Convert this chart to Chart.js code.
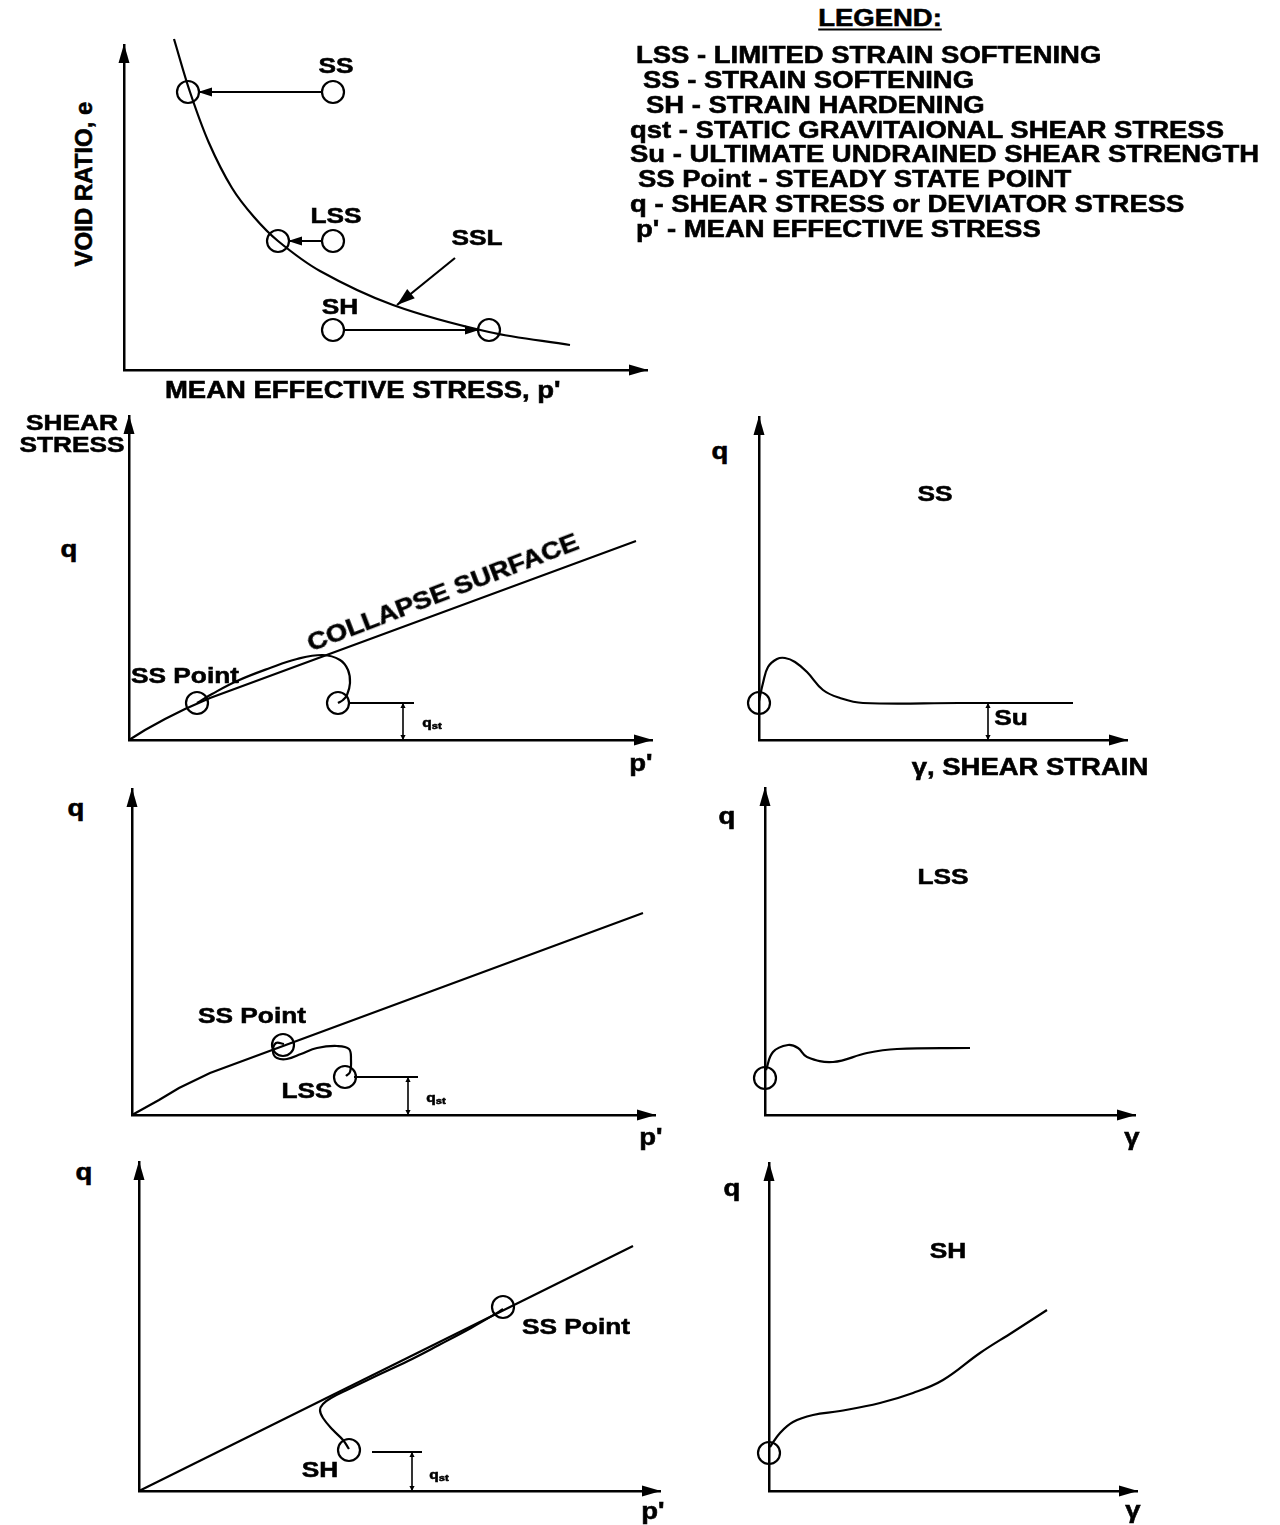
<!DOCTYPE html>
<html>
<head>
<meta charset="utf-8">
<title>Steady state behaviour of sand: SS, LSS and SH responses</title>
<script src="https://cdn.jsdelivr.net/npm/chart.js@4.4.1/dist/chart.umd.min.js"></script>
<style>
  html, body { margin: 0; padding: 0; background: #fff; }
  body { width: 1280px; height: 1525px; position: relative; overflow: hidden;
         font-family: "Liberation Sans", Arial, Helvetica, sans-serif; }
  canvas.panel { position: absolute; }
  .lbl { position: absolute; white-space: nowrap; font-weight: bold; color: #000; line-height: 1;
         -webkit-text-stroke: 0.55px #000; }
  .lbl sub { font-size: 0.72em; vertical-align: -0.22em; line-height: 0; }
</style>
</head>
<body>
<script>
// ---------------------------------------------------------------
// Data (arbitrary units, 0 at each diagram's origin)
// ---------------------------------------------------------------

// Void ratio e versus mean effective stress p' : steady state line (SSL)
const sslP = [5.0, 6.6, 8.5, 10.8, 13.0, 15.4, 19.6, 26.9, 36.5, 44.6];
const sslE = [33.1, 27.8, 22.7, 18.2, 15.3, 12.9, 9.9, 6.5, 3.8, 2.5];
// initial states of the SS, LSS and SH samples
const initP = [20.9, 20.9, 20.9];
const initE = [27.8, 12.9, 4.0];
// corresponding steady states on the SSL
const steadyP = [6.4, 15.4, 36.5];
const steadyE = [27.8, 12.9, 4.0];
// undrained paths (constant e) from initial state towards SSL
const pathFromP = [19.9, 19.9, 21.9];
const pathToP = [7.4, 16.4, 35.5];
// pointer from the "SSL" tag to the line
const sslPointerP = [33.1, 27.3];
const sslPointerE = [11.2, 6.5];

// q - p' : strain softening (SS)
const csP1 = [0, 1.6, 3.6, 5.6, 8.1, 50.7];
const csQ1 = [0, 1.0, 2.1, 3.1, 4.2, 19.9];
const ssPathP = [20.9, 21.4, 21.8, 22.1, 21.9, 21.1, 19.4, 16.8, 14.1, 10.8, 8.3, 6.8];
const ssPathQ = [3.7, 4.0, 4.5, 5.7, 7.0, 8.0, 8.5, 8.1, 7.2, 5.9, 4.6, 3.7];
const ssRingP = [20.9, 6.8];
const ssRingQ = [3.7, 3.7];
const ssQstP = [22.0, 28.5];   // q_st reference line
const ssQstArrowP = 27.4;
const ssQst = 3.7;

// q - gamma : strain softening (SS)
const ssCurveG = [0, 0.4, 0.9, 1.8, 2.6, 3.6, 4.8, 6.4, 8.1, 10.4, 20.0, 31.4];
const ssCurveQ = [3.9, 5.7, 7.3, 8.1, 8.2, 7.8, 6.8, 5.0, 4.2, 3.7, 3.7, 3.7];
const suG = 22.9;
const suQ = 3.7;

// q - p' : limited strain softening (LSS)
const csP2 = [0, 2.7, 4.7, 7.8, 51.1];
const csQ2 = [0, 1.5, 2.7, 4.2, 20.2];
const lssPathP = [15.2, 14.4, 14.1, 14.5, 15.5, 16.9, 18.5, 20.5, 21.7, 21.9, 21.8, 21.4];
const lssPathQ = [7.1, 7.2, 6.3, 5.7, 5.6, 6.1, 6.7, 6.9, 6.6, 5.5, 4.3, 3.9];
const lssRingP = [15.1, 21.3];
const lssRingQ = [7.0, 3.8];
const lssQstP = [22.2, 28.6];
const lssQstArrowP = 27.6;
const lssQst = 3.8;

// q - gamma : limited strain softening (LSS)
const lssCurveG = [0.1, 0.8, 2.3, 3.3, 4.2, 6.8, 10.2, 13.2, 20.5];
const lssCurveQ = [4.5, 6.3, 7.0, 6.7, 5.8, 5.3, 6.2, 6.6, 6.7];
const lssStartQ = 3.7;

// q - p' : strain hardening (SH)
const csP3 = [0, 49.4];
const csQ3 = [0, 24.5];
const shPathP = [21.0, 20.4, 19.4, 18.4, 18.1, 18.4, 19.2, 21.0, 23.7, 26.9, 30.0, 33.2, 35.8, 36.4];
const shPathQ = [4.2, 5.1, 6.1, 7.3, 8.1, 8.7, 9.3, 10.2, 11.5, 13.0, 14.6, 16.3, 17.8, 18.2];
const shRingP = [21.0, 36.4];
const shRingQ = [4.1, 18.4];
const shQstP = [23.3, 28.3];
const shQstArrowP = 27.3;
const shQst = 3.9;

// q - gamma : strain hardening (SH)
const shCurveG = [0.1, 1.1, 2.4, 4.4, 7.1, 11.1, 14.4, 17.4, 21.1, 24.4, 27.8];
const shCurveQ = [4.4, 5.8, 6.9, 7.6, 8.0, 8.8, 9.8, 11.1, 13.8, 15.9, 18.1];
const shStartQ = 3.8;

// ---------------------------------------------------------------
// Helpers
// ---------------------------------------------------------------
const PX = 10;     // pixels per unit, same on every diagram
const PAD = 26;    // room around each plot area

const pts = (xs, ys) => xs.map((x, i) => ({ x, y: ys[i] }));

function curve(xs, ys, extra) {
  return Object.assign({
    data: pts(xs, ys), showLine: true, borderColor: '#000', borderWidth: 2.2,
    pointRadius: 0, pointHoverRadius: 0, fill: false, clip: false, tension: 0
  }, extra || {});
}
function rings(xs, ys, r) {
  return {
    data: pts(xs, ys), showLine: false, pointRadius: r, pointHoverRadius: r,
    pointBorderWidth: 2.2, pointBorderColor: '#000', pointBackgroundColor: 'rgba(0,0,0,0)',
    clip: false
  };
}

function drawHead(ctx, x, y, ang, len, half) {
  const c = Math.cos(ang), s = Math.sin(ang);
  ctx.beginPath();
  ctx.moveTo(x, y);
  ctx.lineTo(x - len * c + half * s, y - len * s - half * c);
  ctx.lineTo(x - len * c - half * s, y - len * s + half * c);
  ctx.closePath();
  ctx.fill();
}

// arrowheads on the axis ends and on datasets flagged with arrowHead
const arrowHeads = {
  id: 'arrowHeads',
  afterDraw(chart) {
    const { ctx } = chart;
    const xs = chart.scales.x, ys = chart.scales.y;
    ctx.save();
    ctx.fillStyle = '#000';
    const x0 = xs.getPixelForValue(xs.min), y0 = ys.getPixelForValue(ys.min);
    drawHead(ctx, xs.getPixelForValue(xs.max) + 1, y0, 0, 19, 5.5);
    drawHead(ctx, x0, ys.getPixelForValue(ys.max) - 1, -Math.PI / 2, 19, 5.5);
    chart.data.datasets.forEach((ds, i) => {
      if (!ds.arrowHead) return;
      const el = chart.getDatasetMeta(i).data;
      const n = el.length;
      const [len, half] = ds.arrowHead;
      const a = el[n - 2], b = el[n - 1];
      drawHead(ctx, b.x, b.y, Math.atan2(b.y - a.y, b.x - a.x), len, half);
      if (ds.arrowBoth) {
        const c = el[0], d = el[1];
        drawHead(ctx, c.x, c.y, Math.atan2(c.y - d.y, c.x - d.x), len, half);
      }
    });
    ctx.restore();
  }
};

function axis(max) {
  return {
    type: 'linear', min: 0, max: max,
    grid: { display: false, drawTicks: false },
    ticks: { display: false },
    border: { display: true, color: '#000', width: 2.5 }
  };
}

function panel(origin, xMax, yMax, datasets) {
  const c = document.createElement('canvas');
  c.className = 'panel';
  c.width = Math.round(xMax * PX) + 2 * PAD;
  c.height = Math.round(yMax * PX) + 2 * PAD;
  c.style.left = (origin[0] - PAD) + 'px';
  c.style.top = (origin[1] - Math.round(yMax * PX) - PAD) + 'px';
  document.body.appendChild(c);
  return new Chart(c, {
    type: 'scatter',
    data: { datasets },
    options: {
      responsive: false, animation: false, events: [],
      layout: { padding: PAD, autoPadding: false },
      plugins: { legend: { display: false }, tooltip: { enabled: false } },
      scales: { x: axis(xMax), y: axis(yMax) }
    },
    plugins: [arrowHeads]
  });
}

function qstMarks(fromTo, arrowX, q) {
  return [
    curve(fromTo, [q, q]),
    curve([arrowX, arrowX], [0, q], { borderWidth: 1.6, arrowHead: [5, 2.6], arrowBoth: true })
  ];
}

// ---------------------------------------------------------------
// Diagrams
// ---------------------------------------------------------------
panel([124, 370], 52.3, 32.5, [
  curve(sslP, sslE, { tension: 0.35 }),
  rings(initP, initE, 11),
  rings(steadyP, steadyE, 11),
  ...initE.map((e, i) => curve([pathFromP[i], pathToP[i]], [e, e], { arrowHead: [14, 4.5] })),
  curve(sslPointerP, sslPointerE, { arrowHead: [18, 6] })
]);

panel([129, 740], 52.3, 32.4, [
  curve(csP1, csQ1),
  curve(ssPathP, ssPathQ, { tension: 0.4 }),
  rings(ssRingP, ssRingQ, 11),
  ...qstMarks(ssQstP, ssQstArrowP, ssQst)
]);

panel([759, 740], 36.8, 32.3, [
  curve(ssCurveG, ssCurveQ, { tension: 0.4 }),
  rings([0], [ssCurveQ[ssCurveQ.length - 1]], 11),
  curve([suG, suG], [0, suQ], { borderWidth: 1.6, arrowHead: [5, 2.6], arrowBoth: true })
]);

panel([132, 1115], 52.3, 32.6, [
  curve(csP2, csQ2),
  curve(lssPathP, lssPathQ, { tension: 0.4 }),
  rings(lssRingP, lssRingQ, 11),
  ...qstMarks(lssQstP, lssQstArrowP, lssQst)
]);

panel([765, 1115], 37.0, 32.7, [
  curve(lssCurveG, lssCurveQ, { tension: 0.4 }),
  rings([0], [lssStartQ], 11)
]);

panel([139, 1491], 52.1, 32.9, [
  curve(csP3, csQ3),
  curve(shPathP, shPathQ, { tension: 0.4 }),
  rings(shRingP, shRingQ, 11),
  ...qstMarks(shQstP, shQstArrowP, shQst)
]);

panel([769, 1491], 36.8, 32.8, [
  curve(shCurveG, shCurveQ, { tension: 0.4 }),
  rings([0], [shStartQ], 11)
]);

// ---------------------------------------------------------------
// Text
// ---------------------------------------------------------------
const FONT = '"Liberation Sans", Arial, Helvetica, sans-serif';
const meas = document.createElement('canvas').getContext('2d');
meas.font = 'bold 23px ' + FONT;
const K = 629 / meas.measureText('Su - ULTIMATE UNDRAINED SHEAR STRENGTH').width;

function label(text, x, y, size, o) {
  o = o || {};
  const d = document.createElement('div');
  d.className = 'lbl';
  if (o.html) d.innerHTML = text; else d.textContent = text;
  d.style.fontSize = size + 'px';
  d.style.left = x + 'px';
  d.style.top = y + 'px';
  const sx = o.noStretch ? 1 : K;
  if (o.left) {
    d.style.transformOrigin = '0 50%';
    d.style.transform = 'translate(0,-50%) scaleX(' + sx + ')';
  } else {
    d.style.transform = 'translate(-50%,-50%) rotate(' + (o.rot || 0) + 'deg) scaleX(' + sx + ')';
  }
  if (o.underline) {
    d.style.textDecoration = 'underline';
    d.style.textDecorationThickness = '2px';
    d.style.textUnderlineOffset = '3px';
  }
  document.body.appendChild(d);
}

// legend
label('LEGEND:', 880, 18, 23, { underline: true });
const legendLines = [
  'LSS - LIMITED STRAIN SOFTENING',
  'SS - STRAIN SOFTENING',
  'SH - STRAIN HARDENING',
  'qst - STATIC GRAVITAIONAL SHEAR STRESS',
  'Su - ULTIMATE UNDRAINED SHEAR STRENGTH',
  'SS Point - STEADY STATE POINT',
  'q - SHEAR STRESS or DEVIATOR STRESS',
  "p' - MEAN EFFECTIVE STRESS"
];
const legendIndent = [636, 643, 646, 630, 630, 638, 630, 636];
legendLines.forEach((t, i) => label(t, legendIndent[i], 55 + i * 24.86, 23, { left: true }));

// e - p' diagram
label('SS', 336, 66, 22);
label('LSS', 336, 216, 22);
label('SH', 340, 307, 22);
label('SSL', 477, 238, 22);
label('VOID RATIO, e', 84, 184, 24, { rot: -90, noStretch: true });
label("MEAN EFFECTIVE STRESS, p'", 165, 390, 23, { left: true });

// q - p' (SS)
label('SHEAR', 72, 423, 22);
label('STRESS', 72, 445, 22);
label('q', 69, 549, 23);
label("p'", 641, 763, 23);
label('SS Point', 185, 676, 22);
label('COLLAPSE SURFACE', 443, 593, 23, { rot: -21 });
label('q<sub>st</sub>', 432, 722, 13, { html: true });

// q - gamma (SS)
label('q', 720, 451, 23);
label('SS', 935, 494, 22);
label('\u03b3, SHEAR STRAIN', 1030, 767, 23);
label('Su', 1011, 718, 22);

// q - p' (LSS)
label('q', 76, 808, 23);
label("p'", 651, 1137, 23);
label('SS Point', 252, 1016, 22);
label('LSS', 307, 1091, 22);
label('q<sub>st</sub>', 436, 1097, 13, { html: true });

// q - gamma (LSS)
label('q', 727, 816, 23);
label('LSS', 943, 877, 22);
label('\u03b3', 1132, 1137, 23);

// q - p' (SH)
label('q', 84, 1172, 23);
label("p'", 653, 1511, 23);
label('SS Point', 576, 1327, 22);
label('SH', 320, 1470, 22);
label('q<sub>st</sub>', 439, 1474, 13, { html: true });

// q - gamma (SH)
label('q', 732, 1188, 23);
label('SH', 948, 1251, 22);
label('\u03b3', 1133, 1510, 23);
</script>
</body>
</html>
